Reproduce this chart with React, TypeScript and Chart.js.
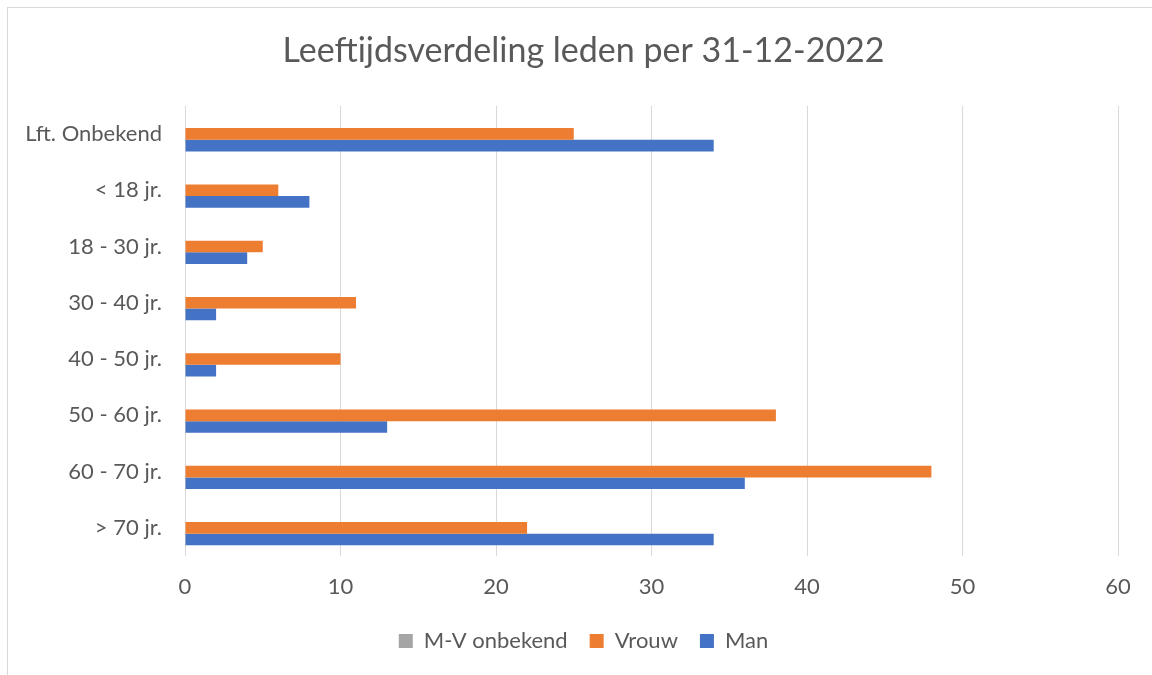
import React, { useEffect, useRef } from "react";
import { Chart, registerables } from "chart.js";

Chart.register(...registerables);

const categories = ["Lft. Onbekend", "< 18 jr.", "18 - 30 jr.", "30 - 40 jr.", "40 - 50 jr.", "50 - 60 jr.", "60 - 70 jr.", "> 70 jr."];
const onbekendValues = [0, 0, 0, 0, 0, 0, 0, 0];
const vrouwValues = [25, 6, 5, 11, 10, 38, 48, 22];
const manValues = [34, 8, 4, 2, 2, 13, 36, 34];
const xTicks = [0, 10, 20, 30, 40, 50, 60];

const FONT = "Lato, 'Open Sans', sans-serif";
const TEXT = "#595959";

export default function App() {
  const ref = useRef<HTMLCanvasElement | null>(null);

  useEffect(() => {
    document.body.style.margin = "0";
    const ctx = ref.current!.getContext("2d")!;
    const chart = new Chart(ctx, {
      type: "bar",
      data: {
        labels: categories,
        datasets: [
          { label: "M-V onbekend", data: onbekendValues, backgroundColor: "#A5A5A5", borderWidth: 0 },
          { label: "Vrouw", data: vrouwValues, backgroundColor: "#ED7D31", borderWidth: 0 },
          { label: "Man", data: manValues, backgroundColor: "#4472C4", borderWidth: 0 },
        ],
      },
      options: {
        indexAxis: "y",
        animation: false,
        responsive: false,
        maintainAspectRatio: false,
        datasets: { bar: { categoryPercentage: 0.62, barPercentage: 1 } },
        layout: { padding: { left: 49, right: 34, top: 0, bottom: 13 } },
        scales: {
          x: {
            min: xTicks[0],
            max: xTicks[xTicks.length - 1],
            afterBuildTicks: (scale: any) => {
              scale.ticks = xTicks.map((v) => ({ value: v }));
            },
            afterFit: (scale: any) => {
              scale.height = 52;
            },
            grid: { color: "#D9D9D9", lineWidth: 1, drawTicks: false },
            border: { display: false },
            ticks: { color: TEXT, font: { family: FONT, size: 22 }, padding: 18 },
          },
          y: {
            afterFit: (scale: any) => {
              scale.width = 136;
              // let the category labels extend into the left padding instead of being clipped
              scale._computeLabelArea = () => undefined;
            },
            grid: { display: false, drawTicks: false },
            border: { display: false },
            ticks: { color: TEXT, font: { family: FONT, size: 22 }, padding: 23 },
          },
        },
        plugins: {
          title: {
            display: true,
            text: "Leeftijdsverdeling leden per 31-12-2022",
            color: TEXT,
            font: { family: FONT, size: 34, weight: "normal" as any, lineHeight: 1.2 },
            padding: { top: 31, bottom: 34 },
          },
          legend: {
            display: true,
            position: "bottom",
            labels: {
              color: TEXT,
              boxWidth: 14,
              boxHeight: 14,
              padding: 22,
              font: { family: FONT, size: 22 },
            },
          },
          tooltip: { enabled: false },
        },
      },
    });
    return () => chart.destroy();
  }, []);

  return (
    <div style={{ position: "relative", width: 1152, height: 675, overflow: "hidden", background: "#fff" }}>
      <canvas ref={ref} width={1152} height={675} style={{ display: "block" }} />
      <div
        style={{
          position: "absolute",
          left: 7,
          top: 7,
          width: 1200,
          height: 800,
          border: "1px solid #D9D9D9",
          pointerEvents: "none",
        }}
      />
    </div>
  );
}
